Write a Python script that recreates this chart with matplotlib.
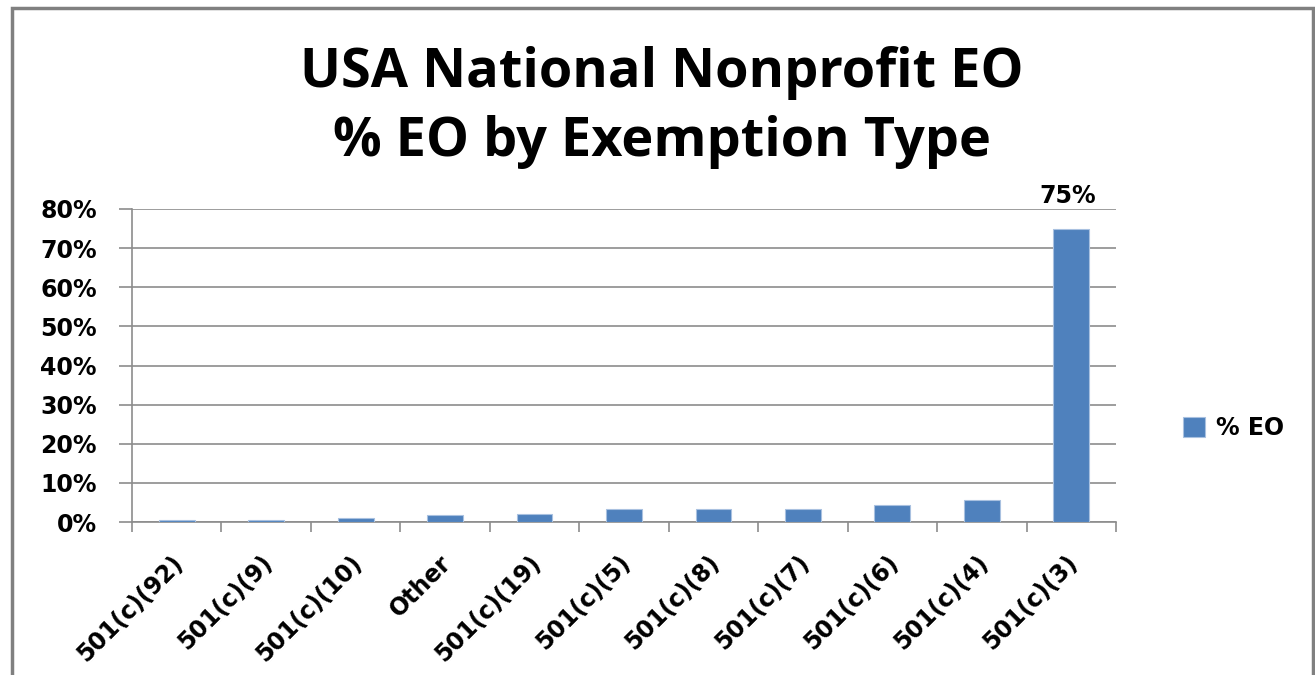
import matplotlib
matplotlib.use("Agg")
import matplotlib.pyplot as plt
from matplotlib.patches import Rectangle
from matplotlib.ticker import FuncFormatter

# dados
categorias = ["501(c)(92)", "501(c)(9)", "501(c)(10)", "Other", "501(c)(19)",
              "501(c)(5)", "501(c)(8)", "501(c)(7)", "501(c)(6)", "501(c)(4)",
              "501(c)(3)"]
pct_eo = [0.5, 0.5, 0.9, 1.7, 2.1, 3.3, 3.3, 3.3, 4.4, 5.6, 75.0]
y_ticks = [0, 10, 20, 30, 40, 50, 60, 70, 80]

azul = "#4F81BD"
cinza = "#8C8C8C"
fs = 17

fig = plt.figure(figsize=(13.15, 6.75), dpi=100)
W, H = 1315, 675

# moldura externa do grafico (a borda de baixo fica fora da imagem)
fig.patches.append(Rectangle((12 / W, -0.05), (1313 - 12) / W, 1.05 - 8 / H,
                             transform=fig.transFigure, fill=False,
                             edgecolor="#808080", linewidth=2.5))

ax = fig.add_axes([132 / W, 1 - 522 / H, (1116 - 132) / W, (522 - 209) / H])

x = range(len(categorias))
barras = ax.bar(x, pct_eo, width=0.4, color=azul, edgecolor="#A9C1E0",
                linewidth=0.8, label="% EO", zorder=3)

ax.set_xlim(-0.5, len(categorias) - 0.5)
ax.set_ylim(0, 80)
ax.set_yticks(y_ticks)
ax.yaxis.set_major_formatter(FuncFormatter(lambda v, p: "%d%%" % v))
ax.grid(axis="y", color=cinza, linewidth=1.2, zorder=0)

for s in ["top", "right"]:
    ax.spines[s].set_visible(False)
for s in ["left", "bottom"]:
    ax.spines[s].set_color(cinza)
    ax.spines[s].set_linewidth(1.2)

ax.tick_params(axis="y", length=9.4, width=1.2, color=cinza, pad=16,
               labelsize=fs)
for lbl in ax.get_yticklabels():
    lbl.set_fontweight("bold")

# ticks do eixo x ficam entre as categorias
ax.set_xticks([i - 0.5 for i in range(len(categorias) + 1)])
ax.set_xticklabels([])
ax.tick_params(axis="x", length=7.5, width=1.2, color=cinza)
for i, c in enumerate(categorias):
    ax.text(i + 0.03, -9.5, c, rotation=45, rotation_mode="anchor",
            ha="right", va="center", fontsize=fs, fontweight="bold",
            clip_on=False)

# rotulo da maior barra
ax.text(len(categorias) - 1 - 0.04, pct_eo[-1] + 8.3, "%d%%" % pct_eo[-1],
        ha="center", va="center", fontsize=fs, fontweight="bold")

fig.text(662 / W, 1 - 73 / H, "USA National Nonprofit EO", ha="center",
         va="center", fontsize=39, fontweight="bold", family="Open Sans")
fig.text(662 / W, 1 - 142 / H, "% EO by Exemption Type", ha="center",
         va="center", fontsize=39, fontweight="bold", family="Open Sans")

leg = ax.legend(loc="center left", bbox_to_anchor=(1162 / W, 1 - 428 / H),
                bbox_transform=fig.transFigure, frameon=False,
                prop={"weight": "bold", "size": fs}, handlelength=0.9,
                handleheight=0.9, handletextpad=0.5)

fig.savefig("out.png", dpi=100)
